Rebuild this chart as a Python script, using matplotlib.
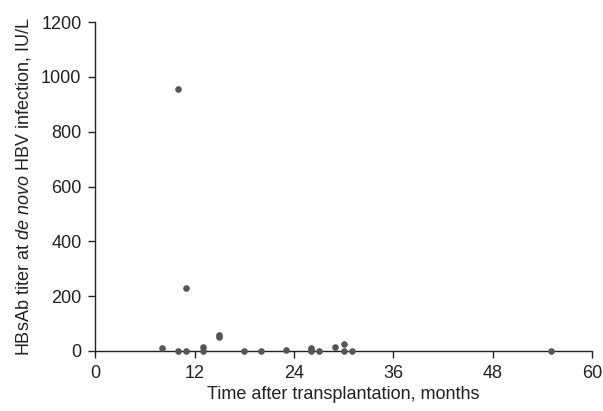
import matplotlib
matplotlib.use("Agg")
import matplotlib.pyplot as plt

months = [8, 10, 10, 11, 11, 13, 13, 15, 15, 18, 20, 23, 26, 26, 26, 27, 29, 30, 30, 31, 55]
titer = [12, 955, 0, 231, 0, 15, 0, 50, 58, 0, 0, 5, 10, 3, 0, 0, 15, 25, 0, 0, 0]

x_ticks = [0, 12, 24, 36, 48, 60]
y_ticks = [0, 200, 400, 600, 800, 1000, 1200]

plt.rcParams['font.family'] = ['Liberation Sans', 'DejaVu Sans']
plt.rcParams['mathtext.fontset'] = 'custom'
plt.rcParams['mathtext.it'] = 'Liberation Sans:italic'
plt.rcParams['mathtext.rm'] = 'Liberation Sans'

fig = plt.figure(figsize=(6.03, 4.11), dpi=100)
ax = fig.add_axes([0.158, 0.146, 0.824, 0.80])

ax.scatter(months, titer, s=14, color='#555555', zorder=3, clip_on=False)

ax.set_xlim(0, 60)
ax.set_ylim(0, 1200)
ax.set_xticks(x_ticks)
ax.set_yticks(y_ticks)
ax.spines['top'].set_visible(False)
ax.spines['right'].set_visible(False)
for s in ['left', 'bottom']:
    ax.spines[s].set_linewidth(1.0)
    ax.spines[s].set_color('#222222')
ax.tick_params(direction='out', length=5, width=1.0, labelsize=13, colors='#222222', pad=5)

ax.set_xlabel('Time after transplantation, months', fontsize=13, color='#222222', labelpad=3)
ax.set_ylabel(r'HBsAb titer at $\it{de\ novo}$ HBV infection, IU/L', fontsize=13, color='#222222', labelpad=6)

fig.savefig('out.png', dpi=100)
